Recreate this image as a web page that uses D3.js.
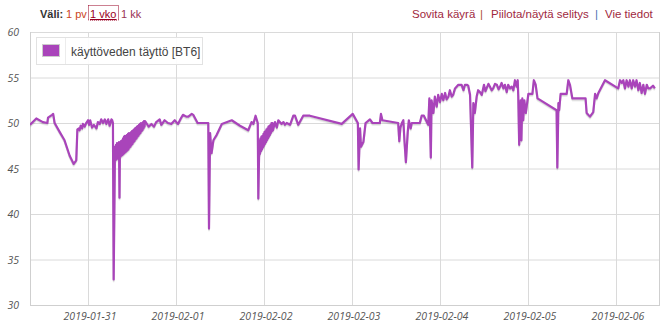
<!DOCTYPE html>
<html>
<head>
<meta charset="utf-8">
<script src="https://cdn.jsdelivr.net/npm/d3@7"></script>
<style>
  html, body { margin: 0; padding: 0; background: #fff; }
  svg { display: block; }
</style>
</head>
<body>
<svg id="chart" width="668" height="328"></svg>
<script>
// ---- data: hours since 2019-01-30 00:00 UTC, and tank fill value ----
const seriesName = "käyttöveden täyttö [BT6]";
const hours = [
  8.2, 9.9, 11.7, 12.9, 13.1, 14.2, 14.5, 14.9, 16.3, 17.6, 19.0, 20.1, 20.8, 21.1, 21.5, 21.7, 22.0, 22.4, 22.6, 23.1,
  23.5, 24.0, 24.3, 24.6, 25.1, 25.6, 26.3, 26.7, 27.2, 27.6, 28.1, 28.6, 29.0, 29.5, 29.9, 30.4, 30.6, 30.8,
  31.0,
  31.36, 31.5, 31.64, 31.77, 31.91, 32.05, 32.18, 32.32, 32.45, 32.59, 32.73, 32.86, 33.0, 33.14, 33.27, 33.41, 33.55,
  33.68, 33.82, 33.95, 34.09, 34.23, 34.36, 34.5, 34.64, 34.77, 34.91, 35.05, 35.18, 35.32, 35.45, 35.59, 35.73, 35.86,
  36.0, 36.14, 36.27, 36.41, 36.55, 36.68, 36.82, 36.95, 37.09, 37.23, 37.36, 37.5, 37.64, 37.77, 37.91, 38.05, 38.18,
  38.32, 38.45, 38.59, 38.73, 38.86, 39.0, 39.14, 39.27, 39.41, 39.55,
  39.9, 40.55, 41.3, 42.0, 42.6, 43.55, 44.0, 44.9, 45.8, 46.7, 47.65, 48.55, 49.3, 49.9, 50.8, 51.35, 52.3, 52.7,
  53.9, 56.8, 57.0, 57.3, 57.7, 58.2, 59.1, 60.5, 63.2, 65.45, 67.7, 68.6, 69.1, 69.7, 70.3,
  70.45, 70.6, 70.75, 70.9, 71.03, 71.17, 71.3, 71.44, 71.58, 71.71, 71.85, 71.99, 72.12, 72.26, 72.4, 72.53, 72.67,
  72.81, 72.94, 73.08, 73.22, 73.35, 73.49, 73.63, 73.76, 73.9, 74.04, 74.17, 74.31, 74.45,
  75.0, 75.5, 75.9, 76.8, 77.3, 77.7, 78.2, 79.1, 80.0, 80.45, 81.35, 82.7, 84.5, 93.2, 96.2, 97.6,
  97.8, 98.2, 98.45, 99.1, 99.7, 100.9, 101.6, 103.6, 103.9, 104.3, 108.6, 108.9, 109.2, 109.6, 110.0, 110.3, 110.7,
  111.2, 111.5, 112.0, 112.3, 114.5, 115.0, 115.6, 116.8,
  117.1, 117.5, 117.7, 118.2, 118.6, 119.1, 119.5, 120.0, 120.5, 120.9, 121.4, 121.8, 122.3, 122.7, 123.2, 123.6, 124.1, 125.0,
  125.9, 126.4, 126.8, 127.3, 127.7, 128.2, 128.8, 129.1, 129.5, 130.0, 130.4, 130.9, 131.4, 132.0, 132.4, 132.7, 133.2,
  133.6, 134.1, 134.5, 135.0, 135.5, 136.0, 136.4,
  136.8, 137.3, 137.7, 138.2, 138.6, 139.1, 139.55, 140.0, 140.45, 140.9, 141.2, 141.35, 141.6, 141.8, 142.0, 142.2,
  142.45, 142.7, 143.0, 143.4, 144.1, 145.2, 145.6, 146.1, 146.6, 151.8, 152.0, 152.3, 152.5, 152.9, 154.55, 155.0,
  155.45, 156.1, 159.7, 160.0, 160.9, 161.8, 162.3, 162.7, 163.2, 165.0, 168.6,
  169.1, 169.6, 170.0, 170.45, 170.9, 171.4, 171.8, 172.3, 172.7, 173.2, 173.6, 174.1, 174.5, 175.0, 175.45, 175.9,
  176.4, 176.8, 177.3, 178.1, 178.6
];
const values = [
  49.8, 50.5, 50.1, 50.0, 50.6, 50.9, 51.0, 50.0, 49.0, 48.1, 46.4, 45.5, 45.9, 49.3, 49.4, 49.2, 49.7, 49.4, 49.9, 49.6,
  50.0, 50.3, 49.8, 50.3, 49.5, 49.8, 49.4, 50.1, 49.9, 50.4, 50.0, 50.4, 49.9, 50.4, 49.7, 50.4, 50.3, 50.0,
  32.8,
  47.4, 45.9, 47.6, 46.0, 47.8, 46.1, 47.8, 46.2, 47.9, 41.8, 47.9, 46.3, 48.0, 46.4, 48.1, 46.5, 48.3,
  46.6, 48.5, 46.7, 48.6, 46.8, 48.6, 46.9, 48.7, 47.0, 48.8, 47.1, 48.9, 47.3, 48.9, 47.4, 49.0, 47.6,
  49.1, 47.7, 49.2, 47.9, 49.3, 48.0, 49.4, 48.2, 49.5, 48.3, 49.6, 48.5, 49.7, 48.6, 49.8, 48.8, 49.9,
  48.9, 50.0, 49.1, 50.0, 49.2, 50.1, 49.4, 50.2, 49.6, 50.2,
  50.0, 49.6, 49.9, 49.6, 50.1, 50.4, 49.8, 50.3, 50.0, 49.9, 50.3, 49.9, 50.5, 50.9, 50.7, 50.7, 51.0, 50.9,
  50.0, 50.0, 38.4, 48.9, 46.7, 48.1, 48.7, 49.9, 50.3, 49.7, 49.2, 50.1, 49.9, 50.8, 50.0,
  41.7, 45.2, 48.1, 46.6, 48.3, 46.9, 48.5, 47.1, 48.6, 47.3, 48.8, 47.5, 49.0, 47.7, 49.1, 47.9, 49.3,
  48.1, 49.4, 48.3, 49.6, 48.5, 49.7, 48.7, 49.8, 48.9, 50.0, 49.1, 50.0, 49.2,
  50.1, 49.5, 50.3, 49.9, 50.1, 49.8, 50.0, 49.8, 50.8, 50.8, 49.8, 50.8, 50.8, 49.9, 51.0, 50.0,
  44.9, 49.4, 47.4, 47.9, 50.0, 50.4, 50.0, 50.0, 51.0, 50.3, 50.0, 48.0, 49.5, 50.0, 50.3, 48.1, 45.7,
  49.0, 50.3, 49.4, 50.0, 50.0, 50.8, 50.8, 49.8,
  52.7, 46.2, 52.5, 51.1, 52.9, 51.8, 53.1, 52.3, 53.2, 52.5, 53.3, 52.6, 52.9, 53.6, 52.9, 53.1, 53.8, 54.2,
  54.2, 53.6, 54.2, 54.2, 54.1, 53.1, 45.1, 52.2, 51.1, 52.9, 53.6, 53.4, 53.1, 54.2, 53.5, 53.8, 54.3,
  54.0, 53.6, 53.8, 54.3, 54.2, 53.7, 54.0,
  54.4, 53.8, 54.2, 53.4, 54.2, 53.8, 54.0, 53.6, 54.7, 54.0, 54.7, 52.9, 47.6, 50.3, 52.5, 48.1,
  52.7, 50.3, 52.5, 51.1, 53.2, 53.2, 54.7, 54.2, 52.7, 51.4, 45.1, 52.2, 51.4, 53.2, 53.2, 54.7,
  54.2, 52.7, 52.7, 51.1, 50.7, 51.2, 53.2, 52.7, 53.3, 54.7, 53.8,
  54.7, 54.4, 54.7, 53.8, 54.7, 54.0, 54.7, 53.8, 54.7, 54.0, 54.7, 53.6, 54.4, 53.3, 54.2, 53.2,
  54.2, 53.8, 53.8, 54.1, 53.8
];
const xDomainHours = [8.18, 179.73];
const yTicks = [30, 35, 40, 45, 50, 55, 60];
const rangeLinks = ["1 pv", "1 vko", "1 kk"];
const actionLinks = ["Sovita käyrä", "Piilota/näytä selitys", "Vie tiedot"];

// ---- drawing ----
const base = Date.UTC(2019, 0, 30);
const toDate = h => new Date(base + h * 3600e3);
const data = hours.map((h, i) => ({ t: toDate(h), v: values[i] }));

const svg = d3.select("#chart");
const M = { left: 30, right: 659, top: 32, bottom: 305 };

const x = d3.scaleUtc().domain(xDomainHours.map(toDate)).range([M.left, M.right]);
const y = d3.scaleLinear().domain([30, 60]).range([M.bottom, M.top]);

const gridColor = "#dadada";
const labelFont = "'Open Sans', sans-serif";

// grid
const grid = svg.append("g");
grid.selectAll("line.h").data(yTicks).join("line")
  .attr("x1", M.left).attr("x2", M.right)
  .attr("y1", d => y(d) + 0.5).attr("y2", d => y(d) + 0.5)
  .attr("stroke", gridColor).attr("stroke-width", 1);
const dayTicks = x.ticks(d3.utcDay.every(1));
grid.selectAll("line.v").data(dayTicks).join("line")
  .attr("x1", d => Math.round(x(d)) + 0.5).attr("x2", d => Math.round(x(d)) + 0.5)
  .attr("y1", M.top).attr("y2", M.bottom)
  .attr("stroke", gridColor).attr("stroke-width", 1);
[M.left, M.right].forEach(px => {
  grid.append("line").attr("x1", px + 0.5).attr("x2", px + 0.5)
    .attr("y1", M.top).attr("y2", M.bottom + 0.5)
    .attr("stroke", "#cfcfcf").attr("stroke-width", 1);
});
grid.append("line").attr("x1", M.left).attr("x2", M.right + 1)
  .attr("y1", M.bottom + 0.5).attr("y2", M.bottom + 0.5)
  .attr("stroke", "#cfcfcf");

// y labels
svg.append("g").selectAll("text").data(yTicks).join("text")
  .attr("x", 19).attr("y", d => y(d) + 4)
  .attr("text-anchor", "end")
  .attr("font-family", labelFont).attr("font-style", "italic")
  .attr("font-size", "10.5px").attr("fill", "#555")
  .text(d => d);

// x labels
const fmt = d3.utcFormat("%Y-%m-%d");
svg.append("g").selectAll("text").data(dayTicks).join("text")
  .attr("x", d => x(d) + 2).attr("y", 320)
  .attr("text-anchor", "middle")
  .attr("font-family", labelFont).attr("font-style", "italic")
  .attr("font-size", "10.5px").attr("fill", "#555")
  .text(d => fmt(d));

// line + shadow
const line = d3.line().x(d => x(d.t)).y(d => y(d.v));
svg.append("clipPath").attr("id", "clip").append("rect")
  .attr("x", M.left).attr("y", M.top - 3).attr("width", M.right - M.left).attr("height", M.bottom - M.top + 6);
const plot = svg.append("g").attr("clip-path", "url(#clip)");
plot.append("path").datum(data).attr("d", line)
  .attr("transform", "translate(0,2)")
  .attr("fill", "none").attr("stroke", "rgba(0,0,0,0.07)").attr("stroke-width", 2)
  .attr("stroke-linejoin", "round");
plot.append("path").datum(data).attr("d", line)
  .attr("transform", "translate(0,1)")
  .attr("fill", "none").attr("stroke", "rgba(0,0,0,0.1)").attr("stroke-width", 2)
  .attr("stroke-linejoin", "round");
plot.append("path").datum(data).attr("d", line)
  .attr("fill", "none").attr("stroke", "#a944ba").attr("stroke-width", 2.2)
  .attr("stroke-linejoin", "round");

// legend
const lg = svg.append("g");
lg.append("rect").attr("x", 36.5).attr("y", 37.5).attr("width", 166).attr("height", 27)
  .attr("fill", "rgba(255,255,255,0.9)").attr("stroke", "#e2e2e2");
lg.append("rect").attr("x", 42.5).attr("y", 44.5).attr("width", 17).attr("height", 12)
  .attr("fill", "#a944ba").attr("stroke", "#cccccc");
lg.append("line").attr("x1", 65.5).attr("x2", 65.5).attr("y1", 38).attr("y2", 64)
  .attr("stroke", "#ececec");
lg.append("text").attr("x", 71).attr("y", 55.5)
  .attr("font-family", "'Liberation Sans', Arial, sans-serif").attr("font-size", "12px")
  .attr("fill", "#444").text(seriesName);

// header
const hf = "'Liberation Sans', Arial, sans-serif";
const hdr = svg.append("g").attr("font-family", hf).attr("font-size", "11.5px");
hdr.append("text").attr("x", 40).attr("y", 18).attr("font-weight", "bold")
  .attr("font-size", "11px").attr("fill", "#333").text("Väli:");
const rangeX = [66, 90, 121];
const rangeCol = ["#cc4422", "#990022", "#993355"];
hdr.selectAll("text.r").data(rangeLinks).join("text")
  .attr("x", (d, i) => rangeX[i]).attr("y", 18)
  .attr("font-size", "11px")
  .attr("fill", (d, i) => rangeCol[i])
  .attr("text-decoration", (d, i) => i === 1 ? "underline" : null)
  .text(d => d);
hdr.append("rect").attr("x", 88.5).attr("y", 5.5).attr("width", 30).attr("height", 14.5)
  .attr("fill", "none").attr("stroke", "#990022").attr("stroke-dasharray", "1,1");

const actX = [412, 491, 605];
hdr.selectAll("text.a").data(actionLinks).join("text")
  .attr("x", (d, i) => actX[i]).attr("y", 18)
  .attr("fill", "#a02840")
  .text(d => d);
const sepX = [480, 595];
const sepCol = ["#b05030", "#4a6fb0"];
hdr.selectAll("text.s").data(sepX).join("text")
  .attr("x", d => d).attr("y", 18)
  .attr("fill", (d, i) => sepCol[i])
  .text("|");
</script>
</body>
</html>
